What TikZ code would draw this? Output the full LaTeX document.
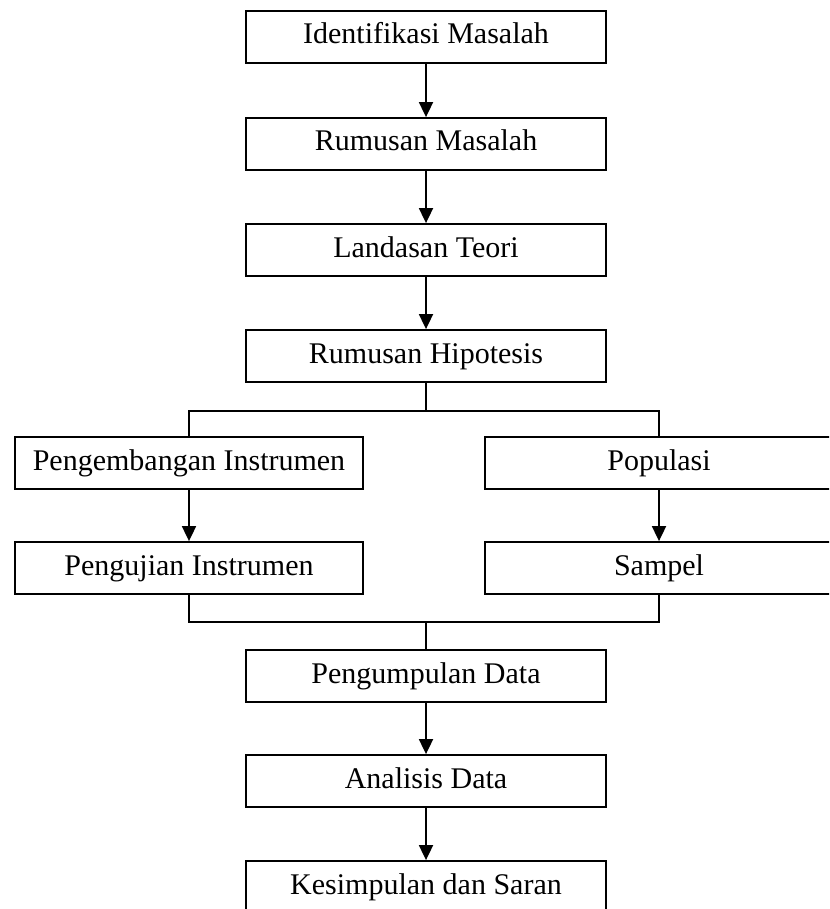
\documentclass[tikz,border=0pt]{standalone}
\usepackage{fontspec}
\setmainfont{Liberation Serif}
\usetikzlibrary{arrows.meta}
\begin{document}
\begin{tikzpicture}[x=1pt,y=-1pt,
 box/.style={draw, line width=1.8pt, minimum width=360pt, minimum height=52pt, inner sep=0pt,
   text height=20pt, text depth=6pt, font=\fontsize{30}{36}\selectfont},
 sbox/.style={box, minimum width=348pt},
 arr/.style={line width=1.8pt, -{Triangle[width=14pt,length=15pt]}},
 ln/.style={line width=1.8pt}]
\useasboundingbox (0,0) rectangle (829,909);
\clip (0,0) rectangle (829,909);
\node[box] (a) at (426,37) {Identifikasi Masalah};
\node[box] (b) at (426,144) {Rumusan Masalah};
\node[box] (c) at (426,250) {Landasan Teori};
\node[box] (d) at (426,356) {Rumusan Hipotesis};
\node[sbox] (e1) at (189,463) {Pengembangan Instrumen};
\node[sbox] (e2) at (659,463) {Populasi};
\node[sbox] (f1) at (189,568) {Pengujian Instrumen};
\node[sbox] (f2) at (659,568) {Sampel};
\node[box] (g) at (426,676) {Pengumpulan Data};
\node[box] (h) at (426,781) {Analisis Data};
\node[box] (k) at (426,887) {Kesimpulan dan Saran};
\draw[arr] (a) -- (b);
\draw[arr] (b) -- (c);
\draw[arr] (c) -- (d);
\coordinate (t) at (426,411);
\draw[ln] (d.south) -- (t);
\draw[ln] (e1.north) |- (t) -| (e2.north);
\draw[arr] (e1) -- (f1);
\draw[arr] (e2) -- (f2);
\coordinate (u) at (426,622);
\draw[ln] (f1.south) |- (u) -| (f2.south);
\draw[ln] (u) -- (g.north);
\draw[arr] (g) -- (h);
\draw[arr] (h) -- (k);
\end{tikzpicture}
\end{document}
